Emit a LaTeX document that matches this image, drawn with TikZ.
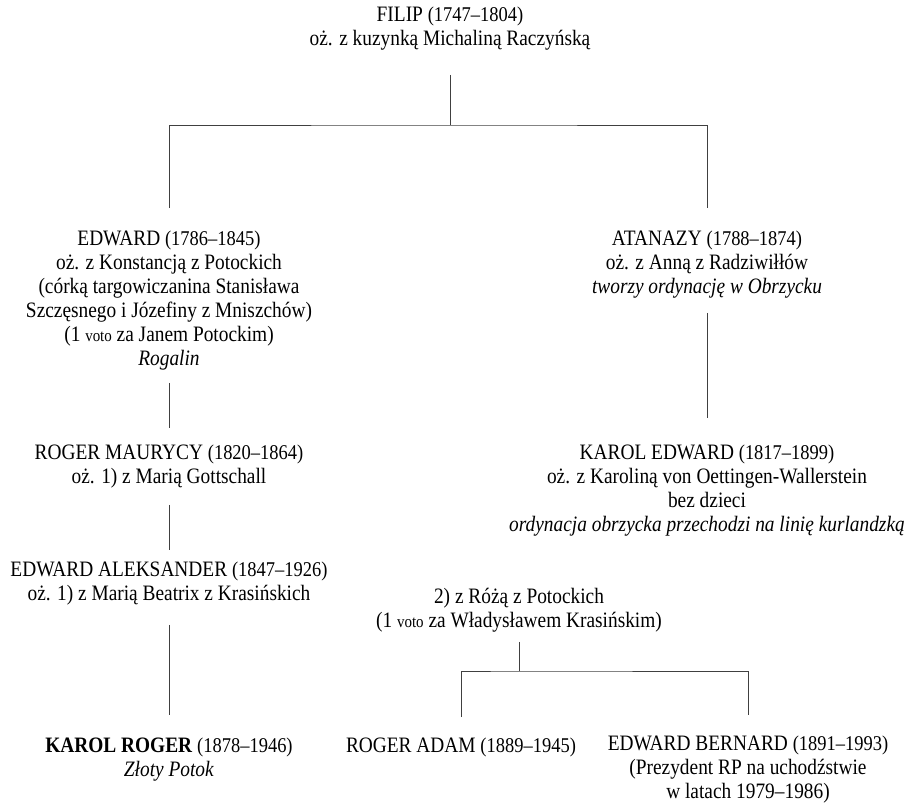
\documentclass[tikz,border=0pt]{standalone}
\usepackage{fontspec}
\setmainfont[FakeStretch=0.88]{Liberation Serif}
\usetikzlibrary{positioning}
\def\odstep{24pt}
\newcommand{\lata}[1]{{\fontsize{21}{24}\selectfont #1}}
\newcommand{\voto}{{\fontsize{17}{24}\selectfont voto}}

\begin{document}
\begin{tikzpicture}[x=1pt,y=1pt]
	\tikzstyle{osoba}=[align=center,anchor=base,inner sep=0pt,font=\fontsize{22}{\odstep}\selectfont]
	\tikzstyle{linia}=[draw=black!75,line width=0.8pt]
	
	\useasboundingbox (0,0) rectangle (908,-803);
	
	% Draw the people, generation by generation
	% (each node sits on the baseline of its last line)
	\node[osoba] (filip) at (450,-45) {FILIP \lata{(1747–1804)}\\oż. z kuzynką Michaliną Raczyńską};
	
	\node[osoba] (edward) at (169,-365) {EDWARD \lata{(1786–1845)}\\oż. z Konstancją z Potockich\\(córką targowiczanina Stanisława\\Szczęsnego i Józefiny z Mniszchów)\\(1 \voto{} za Janem Potockim)\\\textit{Rogalin}};
	\node[osoba] (atanazy) at (707,-293) {ATANAZY \lata{(1788–1874)}\\oż. z Anną z Radziwiłłów\\\textit{tworzy ordynację w Obrzycku}};
	
	\node[osoba] (roger) at (169,-483) {ROGER MAURYCY \lata{(1820–1864)}\\oż. 1) z Marią Gottschall};
	\node[osoba] (karoled) at (707,-531) {KAROL EDWARD \lata{(1817–1899)}\\oż. z Karoliną von Oettingen-Wallerstein\\bez dzieci\\\textit{ordynacja obrzycka przechodzi na linię kurlandzką}};
	
	\node[osoba] (aleksander) at (169,-600) {EDWARD ALEKSANDER \lata{(1847–1926)}\\oż. 1) z Marią Beatrix z Krasińskich};
	\node[osoba] (roza) at (519,-627) {2) z Różą z Potockich\\(1 \voto{} za Władysławem Krasińskim)};
	
	\node[osoba] (karolrog) at (169,-776) {\textbf{KAROL ROGER} \lata{(1878–1946)}\\\textit{Złoty Potok}};
	\node[osoba] (rogadam) at (461,-752) {ROGER ADAM \lata{(1889–1945)}};
	\node[osoba] (bernard) at (748,-798) {EDWARD BERNARD \lata{(1891–1993)}\\(Prezydent RP na uchodźstwie\\w latach 1979–1986)};
	
	% Junctions of the forks
	\coordinate (rozw1) at (450,-125);
	\coordinate (rozw2) at (519,-671);
	
	% Connect parents with children
	\draw[linia] ([yshift=-25pt]filip.south) -- (rozw1);
	\draw[linia] ([yshift=22pt]edward.north) |- (rozw1) -| ([yshift=22pt]atanazy.north);
	
	\draw[linia] ([yshift=-13pt]edward.south) -- ([yshift=16pt]roger.north);
	\draw[linia] ([yshift=-15pt]atanazy.south) -- ([yshift=26pt]karoled.north);
	\draw[linia] ([yshift=-17pt]roger.south) -- ([yshift=11pt]aleksander.north);
	\draw[linia] ([yshift=-20pt]aleksander.south) -- ([yshift=22pt]karolrog.north);
	
	\draw[linia] ([yshift=-10pt]roza.south) -- (rozw2);
	\draw[linia] ([yshift=20pt]rogadam.north) |- (rozw2) -| ([yshift=20pt]bernard.north);
	
\end{tikzpicture}
\end{document}
